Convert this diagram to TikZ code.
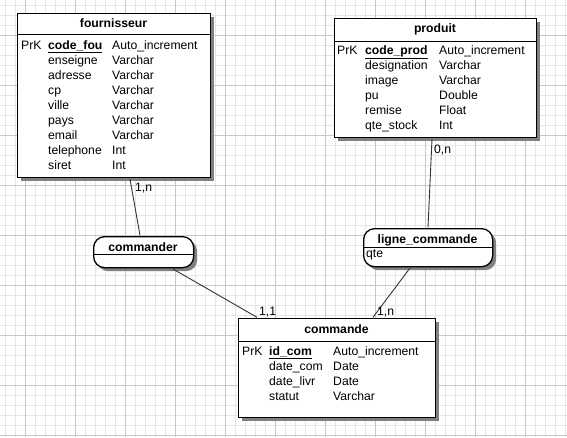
\documentclass[tikz,border=0pt]{standalone}
\usepackage{fontspec}
\setmainfont{Liberation Sans}
\usetikzlibrary{shadows}
\definecolor{gridlight}{HTML}{E6E6E6}
\definecolor{griddark}{HTML}{C8C8C8}
\definecolor{shadowgray}{HTML}{808080}
\definecolor{linkgray}{HTML}{333333}
\newcommand\fsz{\fontsize{12.2}{14}\selectfont}
\tikzset{
  txt/.style={font=\fsz, inner sep=0pt, anchor=base west},
  ttl/.style={font=\fsz\bfseries, inner sep=0pt, anchor=base},
  entity/.style={draw=black, line width=1.3pt, fill=white, anchor=north west, inner sep=0pt,
    drop shadow={shadow xshift=3.5pt, shadow yshift=-3.5pt, fill=shadowgray, opacity=1}},
  relation/.style={entity, rounded corners=11pt},
  sep/.style={draw=black, line width=1pt},
  link/.style={draw=linkgray, line width=0.9pt},
  card/.style={txt}
}
\begin{document}
\begin{tikzpicture}[x=1pt,y=-1pt]
\useasboundingbox (0,0) rectangle (567,437);
\fill[white] (0,0) rectangle (567,437);
% grid
\foreach \x in {5,15,...,565} \draw[gridlight, line width=0.8pt] (\x,0) -- (\x,437);
\foreach \y in {5,15,...,435} \draw[gridlight, line width=0.8pt] (0,\y) -- (567,\y);
\foreach \x in {25,75,...,565} \draw[griddark, line width=0.8pt] (\x,0) -- (\x,437);
\foreach \y in {35,85,...,435} \draw[griddark, line width=0.8pt] (0,\y) -- (567,\y);

% ---------- fournisseur ----------
\node[entity, minimum width=193pt, minimum height=164pt] (fournisseur) at (17,13) {};
\draw[sep] ([yshift=-21pt]fournisseur.north west) -- ([yshift=-21pt]fournisseur.north east);
\node[ttl] (fournisseur-t) at (113.5,27) {fournisseur};
\node[txt] (f-pk) at (21,49) {PrK};
\node[txt] (f-k) at (48,49) {\bfseries\underline{code\_fou}};
\node[txt] (f-kt) at (112,49) {Auto\_increment};
\foreach \n/\t [count=\i] in {enseigne/Varchar,adresse/Varchar,cp/Varchar,ville/Varchar,pays/Varchar,email/Varchar,telephone/Int,siret/Int}
{
  \node[txt] (f-n\i) at (48,49+15*\i) {\n};
  \node[txt] (f-t\i) at (112,49+15*\i) {\t};
}

% ---------- produit ----------
\node[entity, minimum width=202pt, minimum height=119pt] (produit) at (334,18) {};
\draw[sep] ([yshift=-23pt]produit.north west) -- ([yshift=-23pt]produit.north east);
\node[ttl] (produit-t) at (435,32.5) {produit};
\node[txt] (p-pk) at (337,54.5) {PrK};
\node[txt] (p-k) at (365,54.5) {\bfseries\underline{code\_prod}};
\node[txt] (p-kt) at (439,54.5) {Auto\_increment};
\foreach \n/\t [count=\i] in {designation/Varchar,image/Varchar,pu/Double,remise/Float,qte\_stock/Int}
{
  \node[txt] (p-n\i) at (365,54.5+15*\i) {\n};
  \node[txt] (p-t\i) at (439,54.5+15*\i) {\t};
}

% ---------- commande ----------
\node[entity, minimum width=197pt, minimum height=99pt] (commande) at (238,318) {};
\draw[sep] ([yshift=-23pt]commande.north west) -- ([yshift=-23pt]commande.north east);
\node[ttl] (commande-t) at (336.5,333.5) {commande};
\node[txt] (c-pk) at (242,355) {PrK};
\node[txt] (c-k) at (269,355) {\bfseries\underline{id\_com}};
\node[txt] (c-kt) at (333,355) {Auto\_increment};
\foreach \n/\t [count=\i] in {date\_com/Date,date\_livr/Date,statut/Varchar}
{
  \node[txt] (c-n\i) at (269,355+15*\i) {\n};
  \node[txt] (c-t\i) at (333,355+15*\i) {\t};
}

% ---------- commander ----------
\node[relation, minimum width=100pt, minimum height=31pt] (commander) at (93,236) {};
\draw[sep] ([yshift=-18pt]commander.north west) -- ([yshift=-18pt]commander.north east);
\node[ttl] (commander-t) at (143,251) {commander};

% ---------- ligne_commande ----------
\node[relation, minimum width=129pt, minimum height=38pt] (ligne) at (363,228) {};
\draw[sep] ([yshift=-19pt]ligne.north west) -- ([yshift=-19pt]ligne.north east);
\node[ttl] (ligne-t) at (427.5,243) {ligne\_commande};
\node[txt] (l-qte) at (366,257) {qte};

% ---------- connectors ----------
\draw[link] ([xshift=113pt,yshift=-0.7pt]fournisseur.south west) -- ([xshift=47pt,yshift=0.7pt]commander.north west);
\draw[link] ([xshift=80pt,yshift=-0.7pt]commander.south west) -- ([xshift=19pt,yshift=0.7pt]commande.north west);
\draw[link] ([xshift=98pt,yshift=-0.7pt]produit.south west) -- ([xshift=65pt,yshift=0.7pt]ligne.north west);
\draw[link] ([xshift=47pt,yshift=-0.7pt]ligne.south west) -- ([xshift=135pt,yshift=0.7pt]commande.north west);

% ---------- cardinalities ----------
\node[card] (card-f) at (135,191) {1,n};
\node[card] (card-p) at (434,153) {0,n};
\node[card] (card-c1) at (259,315) {1,1};
\node[card] (card-c2) at (377,315) {1,n};
\end{tikzpicture}
\end{document}
